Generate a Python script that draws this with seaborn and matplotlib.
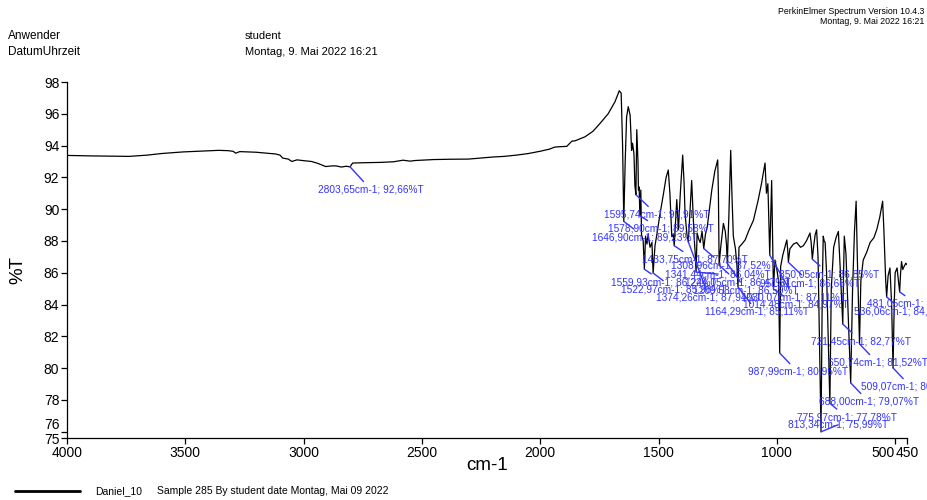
import matplotlib
matplotlib.use('Agg')
import matplotlib.pyplot as plt
from matplotlib.lines import Line2D
import pandas as pd
import seaborn as sns

# Spektrum, Stuetzpunkte (cm-1, %T)
wavenumber = [4000, 3900, 3800, 3737, 3660, 3600, 3510, 3420, 3359, 3320, 3298, 3287, 3270, 3200,
              3118, 3100, 3088, 3065, 3050, 3028, 3000, 2967, 2940, 2907, 2880, 2863, 2840, 2820,
              2803.65, 2793, 2750, 2680, 2620, 2580, 2550, 2529, 2450, 2380, 2303, 2250, 2200, 2152,
              2100, 2050, 2001, 1960, 1940, 1916, 1888, 1866, 1853, 1811, 1777, 1747, 1713, 1684,
              1666, 1658, 1652, 1646.90, 1641, 1635, 1628, 1620, 1614, 1610, 1604, 1600, 1595.74,
              1592, 1587, 1585, 1582, 1578.90, 1575, 1572, 1565, 1559.93, 1555, 1549, 1544, 1536,
              1528, 1522.97, 1515, 1505, 1495, 1480, 1468, 1459, 1452, 1444, 1438, 1433.75, 1428,
              1423, 1419, 1416, 1408, 1398, 1392, 1388, 1380, 1374.26, 1368, 1360, 1355, 1350, 1345,
              1341.44, 1337, 1330, 1324, 1316, 1308.96, 1302, 1294, 1285, 1275, 1262, 1250, 1247,
              1244.05, 1238, 1230, 1226, 1218, 1213, 1209.58, 1203, 1195, 1190, 1184, 1175, 1169,
              1164.29, 1160, 1148, 1134, 1120, 1099, 1080, 1065, 1050, 1044, 1038, 1030.07, 1022,
              1014.48, 1008, 1000, 993, 987.99, 984, 975, 966, 958, 954, 951.31, 945, 930, 916, 900,
              888, 875, 860, 855, 850.05, 845, 838, 832, 826, 813.34, 808, 804, 800, 796, 790,
              775.97, 770, 760, 750, 740, 733, 721.45, 718, 715, 708, 700, 688.00, 680, 672, 665,
              660, 650.74, 645, 635, 620, 606, 590, 578, 565, 553, 548, 540, 536.06, 530, 522, 515,
              509.07, 504, 500, 492, 486, 481.05, 477, 473, 468, 462, 455, 450]
transmittance = [93.38, 93.35, 93.33, 93.32, 93.40, 93.50, 93.60, 93.66, 93.70, 93.68, 93.64, 93.52,
                 93.62, 93.58, 93.47, 93.40, 93.21, 93.15, 93.00, 93.10, 93.05, 93.00, 92.88, 92.68,
                 92.72, 92.72, 92.65, 92.70, 92.66, 92.90, 92.92, 92.94, 92.98, 93.08, 93.02, 93.06,
                 93.12, 93.14, 93.15, 93.22, 93.28, 93.32, 93.40, 93.50, 93.64, 93.78, 93.90, 93.93,
                 93.95, 94.28, 94.30, 94.55, 94.90, 95.40, 96.00, 96.76, 97.45, 97.30, 94.0, 89.23,
                 93.0, 95.8, 96.45, 95.9, 93.7, 94.15, 93.5, 91.5, 90.91, 95.0, 93.0, 91.2, 91.4,
                 89.58, 91.2, 88.4, 88.0, 86.22, 88.3, 87.8, 88.4, 87.6, 87.9, 85.98, 87.7, 88.6,
                 89.6, 90.9, 92.0, 92.46, 91.0, 88.27, 88.4, 87.70, 89.2, 90.6, 89.5, 88.7, 91.0,
                 93.4, 91.6, 89.7, 88.4, 87.94, 89.6, 91.8, 90.0, 88.3, 87.2, 86.04, 88.5, 88.1,
                 87.9, 88.6, 87.52, 88.4, 88.9, 90.0, 91.2, 92.4, 93.1, 91.0, 86.47, 87.5, 88.6,
                 89.1, 88.6, 87.8, 86.59, 89.5, 93.7, 91.0, 88.3, 87.5, 86.5, 85.11, 87.6, 87.8,
                 88.06, 88.6, 89.3, 90.5, 91.6, 92.9, 91.0, 91.6, 87.11, 91.8, 84.97, 86.8, 86.2,
                 85.5, 80.95, 86.4, 87.1, 87.6, 88.06, 87.4, 86.66, 87.5, 87.8, 87.9, 87.6, 87.7,
                 88.0, 88.5, 87.9, 86.85, 87.6, 88.4, 88.7, 87.0, 75.99, 85.0, 88.3, 88.0, 87.9,
                 86.0, 77.78, 85.0, 87.6, 88.2, 88.6, 86.5, 82.77, 86.0, 88.3, 87.2, 84.0, 79.07,
                 85.0, 88.6, 90.5, 87.0, 81.52, 85.5, 86.8, 87.3, 87.9, 88.2, 88.7, 89.5, 90.5,
                 88.8, 85.5, 84.48, 85.8, 86.3, 84.0, 80.01, 84.0, 86.0, 86.3, 85.5, 84.79, 86.0,
                 86.7, 86.2, 86.4, 86.6, 86.5]

# markierte Banden
peak_wn = [2803.65, 1646.90, 1595.74, 1578.90, 1559.93, 1522.97, 1433.75, 1374.26, 1341.44,
           1308.96, 1244.05, 1209.58, 1164.29, 1030.07, 1014.48, 987.99, 951.31, 850.05,
           813.34, 775.97, 721.45, 688.00, 650.74, 536.06, 509.07, 481.05]
peak_t = [92.66, 89.23, 90.91, 89.58, 86.22, 85.98, 87.70, 87.94, 86.04, 87.52, 86.47, 86.59,
          85.11, 87.11, 84.97, 80.95, 86.66, 86.85, 75.99, 77.78, 82.77, 79.07, 81.52, 84.48,
          80.01, 84.79]
# Versatz der Beschriftung in Pixeln
label_dx = [21, 21, 21, 21, 19, 21, 21, 21, 22, 20, 19, 19, 19, 24, 22, 18, 22, 17, 17, 17,
            18, 18, 18, 17, 18, 17]
label_dy = [-23, -16, -20, -13, -13, -16, -14, -56, -2, -17, -17, -27, -25, -42, -15, -19, -21,
            -15, 7, -14, -17, -19, -19, -15, -19, -12]

x_ticks = [4000, 3500, 3000, 2500, 2000, 1500, 1000, 500, 450]
y_ticks = [75.6, 76, 78, 80, 82, 84, 86, 88, 90, 92, 94, 96, 98]
y_tick_labels = ['75', '76', '78', '80', '82', '84', '86', '88', '90', '92', '94', '96', '98']

sns.set_style('ticks')
plt.rcParams['font.family'] = ['Liberation Sans', 'DejaVu Sans']
plt.rcParams['text.color'] = 'black'
blue = '#3333ff'

fig = plt.figure(figsize=(9.28, 5.0), dpi=100)
ax = fig.add_axes([67 / 928, 62 / 500, 840 / 928, 356 / 500])

df = pd.DataFrame({'cm-1': wavenumber, '%T': transmittance})
sns.lineplot(data=df, x='cm-1', y='%T', sort=False, estimator=None, color='black', lw=0.9, ax=ax)

ax.set_xlim(4000, 450)
ax.set_ylim(75.6, 98)
ax.set_xlabel('')
ax.set_ylabel('')
ax.set_xticks(x_ticks)
ax.set_xticklabels([str(t) for t in x_ticks], fontsize=10)
ax.set_yticks(y_ticks)
ax.set_yticklabels(y_tick_labels, fontsize=10)
ax.tick_params(length=4, width=0.9, color='black', pad=1.5, labelcolor='black')
xl = ax.get_xticklabels()
xl[7].set_ha('right')
ax.get_yticklabels()[1].set_va('bottom')
for s in ['left', 'bottom']:
    ax.spines[s].set_color('black')
    ax.spines[s].set_linewidth(0.9)
sns.despine(ax=ax)

for wn, t, dx, dy in zip(peak_wn, peak_t, label_dx, label_dy):
    txt = f'{wn:.2f}'.replace('.', ',') + 'cm-1; ' + f'{t:.2f}'.replace('.', ',') + '%T'
    ax.annotate(txt, xy=(wn, t), xytext=(dx, dy), textcoords='offset pixels',
                ha='center', va='center', fontsize=7.3, color=blue, annotation_clip=False,
                arrowprops=dict(arrowstyle='-', color=blue, lw=1.0, shrinkA=0, shrinkB=0))

fig.text(18 / 928, 1 - 270 / 500, '%T', rotation=90, ha='center', va='center', fontsize=13.5, color='black')
fig.text(487 / 928, 1 - 466 / 500, 'cm-1', ha='center', va='center', fontsize=13.5, color='black')

# Kopfzeile
fig.text(924 / 928, 1 - 12 / 500, 'PerkinElmer Spectrum Version 10.4.3', ha='right', va='center',
         fontsize=6.3, color='black')
fig.text(924 / 928, 1 - 22 / 500, 'Montag, 9. Mai 2022 16:21', ha='right', va='center',
         fontsize=6.3, color='black')
fig.text(8 / 928, 1 - 36 / 500, 'Anwender', ha='left', va='center', fontsize=8.5, color='black')
fig.text(8 / 928, 1 - 52 / 500, 'DatumUhrzeit', ha='left', va='center', fontsize=8.5, color='black')
fig.text(245 / 928, 1 - 36 / 500, 'student', ha='left', va='center', fontsize=8, color='black')
fig.text(245 / 928, 1 - 52 / 500, 'Montag, 9. Mai 2022 16:21', ha='left', va='center', fontsize=8,
         color='black')

# Fusszeile
fig.add_artist(Line2D([15 / 928, 80 / 928], [1 - 491 / 500] * 2, color='black', lw=2.0,
                      transform=fig.transFigure))
fig.text(95 / 928, 1 - 491 / 500, 'Daniel_10', ha='left', va='center', fontsize=7.5, color='black')
fig.text(157 / 928, 1 - 491 / 500, 'Sample 285 By student date Montag, Mai 09 2022', ha='left',
         va='center', fontsize=7.5, color='black')

fig.savefig('out.png', dpi=100)
